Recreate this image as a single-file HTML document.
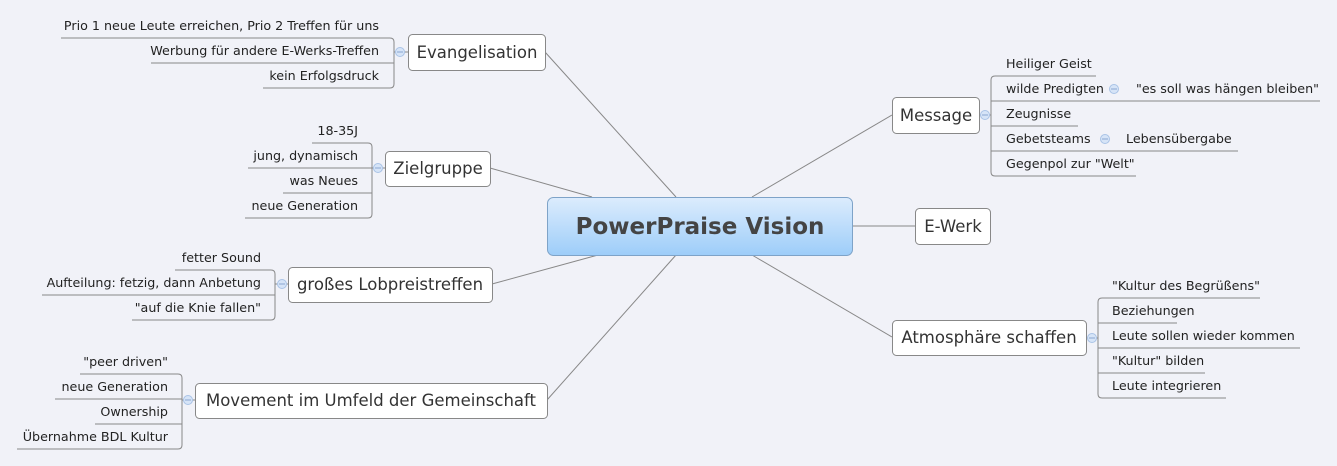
<!DOCTYPE html>
<html><head><meta charset="utf-8"><style>
html,body{margin:0;padding:0;background:#f1f2f8;}
svg{display:block;font-family:"DejaVu Sans","Liberation Sans",sans-serif;}
.l{font-size:12.7px;fill:#222;}
.b{font-size:16.5px;fill:#333;}
</style></head><body>
<svg width="1337" height="466" viewBox="0 0 1337 466" xmlns="http://www.w3.org/2000/svg">
<defs>
<linearGradient id="g" x1="0" y1="0" x2="0" y2="1">
<stop offset="0" stop-color="#dcecfd"/><stop offset="1" stop-color="#9dcdf9"/>
</linearGradient>
</defs>
<g stroke="#888" stroke-width="1" fill="none">
<line x1="676" y1="197" x2="545" y2="52"/>
<line x1="592" y1="197" x2="490" y2="168"/>
<line x1="598" y1="255" x2="492" y2="284"/>
<line x1="676" y1="255" x2="547" y2="400"/>
<line x1="752" y1="197" x2="892" y2="115"/>
<line x1="852" y1="226" x2="915" y2="226"/>
<line x1="752" y1="255" x2="892" y2="337"/>
<path d="M61 38H390q4 0 4 4V84q0 4-4 4H263M151 63H394"/>
<line x1="394" y1="52" x2="408" y2="52"/>
<path d="M312 143H368q4 0 4 4V214q0 4-4 4H245M248 168H372M283 193H372"/>
<line x1="372" y1="168" x2="385" y2="168"/>
<path d="M175 270H271q4 0 4 4V316q0 4-4 4H132M42 295H275"/>
<line x1="275" y1="284" x2="288" y2="284"/>
<path d="M80 374H178q4 0 4 4V445q0 4-4 4H17M55 399H182M95 424H182"/>
<line x1="182" y1="400" x2="195" y2="400"/>
<path d="M1096 76H995q-4 0-4 4V172q0 4 4 4H1136M1320 101H991M1078 126H991M1238 151H991"/>
<line x1="979" y1="115" x2="991" y2="115"/>
<path d="M1260 298H1102q-4 0-4 4V394q0 4 4 4H1226M1177 323H1098M1300 348H1098M1205 373H1098"/>
<line x1="1086" y1="338" x2="1098" y2="338"/>
</g>
<g fill="#d6e4f7" stroke="#a9c3e6">
<circle cx="400" cy="52" r="4.5"/><circle cx="378" cy="168" r="4.5"/>
<circle cx="282" cy="284" r="4.5"/><circle cx="188" cy="400" r="4.5"/>
<circle cx="985" cy="115" r="4.5"/><circle cx="1092" cy="338" r="4.5"/>
<circle cx="1114" cy="89" r="4.5"/><circle cx="1105" cy="139" r="4.5"/>
</g>
<g stroke="#8aa6d0"><line x1="397" y1="52" x2="403" y2="52"/><line x1="375" y1="168" x2="381" y2="168"/><line x1="279" y1="284" x2="285" y2="284"/><line x1="185" y1="400" x2="191" y2="400"/><line x1="982" y1="115" x2="988" y2="115"/><line x1="1089" y1="338" x2="1095" y2="338"/><line x1="1111" y1="89" x2="1117" y2="89"/><line x1="1102" y1="139" x2="1108" y2="139"/></g>
<g fill="#fff" stroke="#888">
<rect x="408.5" y="34.5" width="137" height="36" rx="4"/>
<rect x="385.5" y="151.5" width="105" height="35" rx="4"/>
<rect x="288.5" y="267.5" width="204" height="35" rx="4"/>
<rect x="195.5" y="383.5" width="352" height="35" rx="4"/>
<rect x="892.5" y="97.5" width="87" height="36" rx="4"/>
<rect x="915.5" y="208.5" width="75" height="36" rx="4"/>
<rect x="892.5" y="320.5" width="194" height="35" rx="4"/>
</g>
<rect x="547.5" y="197.5" width="305" height="58" rx="6" fill="url(#g)" stroke="#7ea3c8"/>
<text x="700" y="234" text-anchor="middle" font-size="23" font-weight="bold" fill="#444">PowerPraise Vision</text>
<g class="b" text-anchor="middle">
<text x="477" y="58">Evangelisation</text>
<text x="438" y="174">Zielgruppe</text>
<text x="390" y="290">großes Lobpreistreffen</text>
<text x="371" y="406">Movement im Umfeld der Gemeinschaft</text>
<text x="936" y="121">Message</text>
<text x="953" y="232">E-Werk</text>
<text x="989" y="343">Atmosphäre schaffen</text>
</g>
<g class="l" text-anchor="end">
<text x="379" y="30">Prio 1 neue Leute erreichen, Prio 2 Treffen für uns</text>
<text x="379" y="55">Werbung für andere E-Werks-Treffen</text>
<text x="379" y="80">kein Erfolgsdruck</text>
<text x="358" y="135">18-35J</text>
<text x="358" y="160">jung, dynamisch</text>
<text x="358" y="185">was Neues</text>
<text x="358" y="210">neue Generation</text>
<text x="261" y="262">fetter Sound</text>
<text x="261" y="287">Aufteilung: fetzig, dann Anbetung</text>
<text x="261" y="312">"auf die Knie fallen"</text>
<text x="168" y="366">"peer driven"</text>
<text x="168" y="391">neue Generation</text>
<text x="168" y="416">Ownership</text>
<text x="168" y="441">Übernahme BDL Kultur</text>
</g>
<g class="l">
<text x="1006" y="68">Heiliger Geist</text>
<text x="1006" y="93">wilde Predigten</text>
<text x="1136" y="93">"es soll was hängen bleiben"</text>
<text x="1006" y="118">Zeugnisse</text>
<text x="1006" y="143">Gebetsteams</text>
<text x="1126" y="143">Lebensübergabe</text>
<text x="1006" y="168">Gegenpol zur "Welt"</text>
<text x="1112" y="290">"Kultur des Begrüßens"</text>
<text x="1112" y="315">Beziehungen</text>
<text x="1112" y="340">Leute sollen wieder kommen</text>
<text x="1112" y="365">"Kultur" bilden</text>
<text x="1112" y="390">Leute integrieren</text>
</g>
</svg>
</body></html>
